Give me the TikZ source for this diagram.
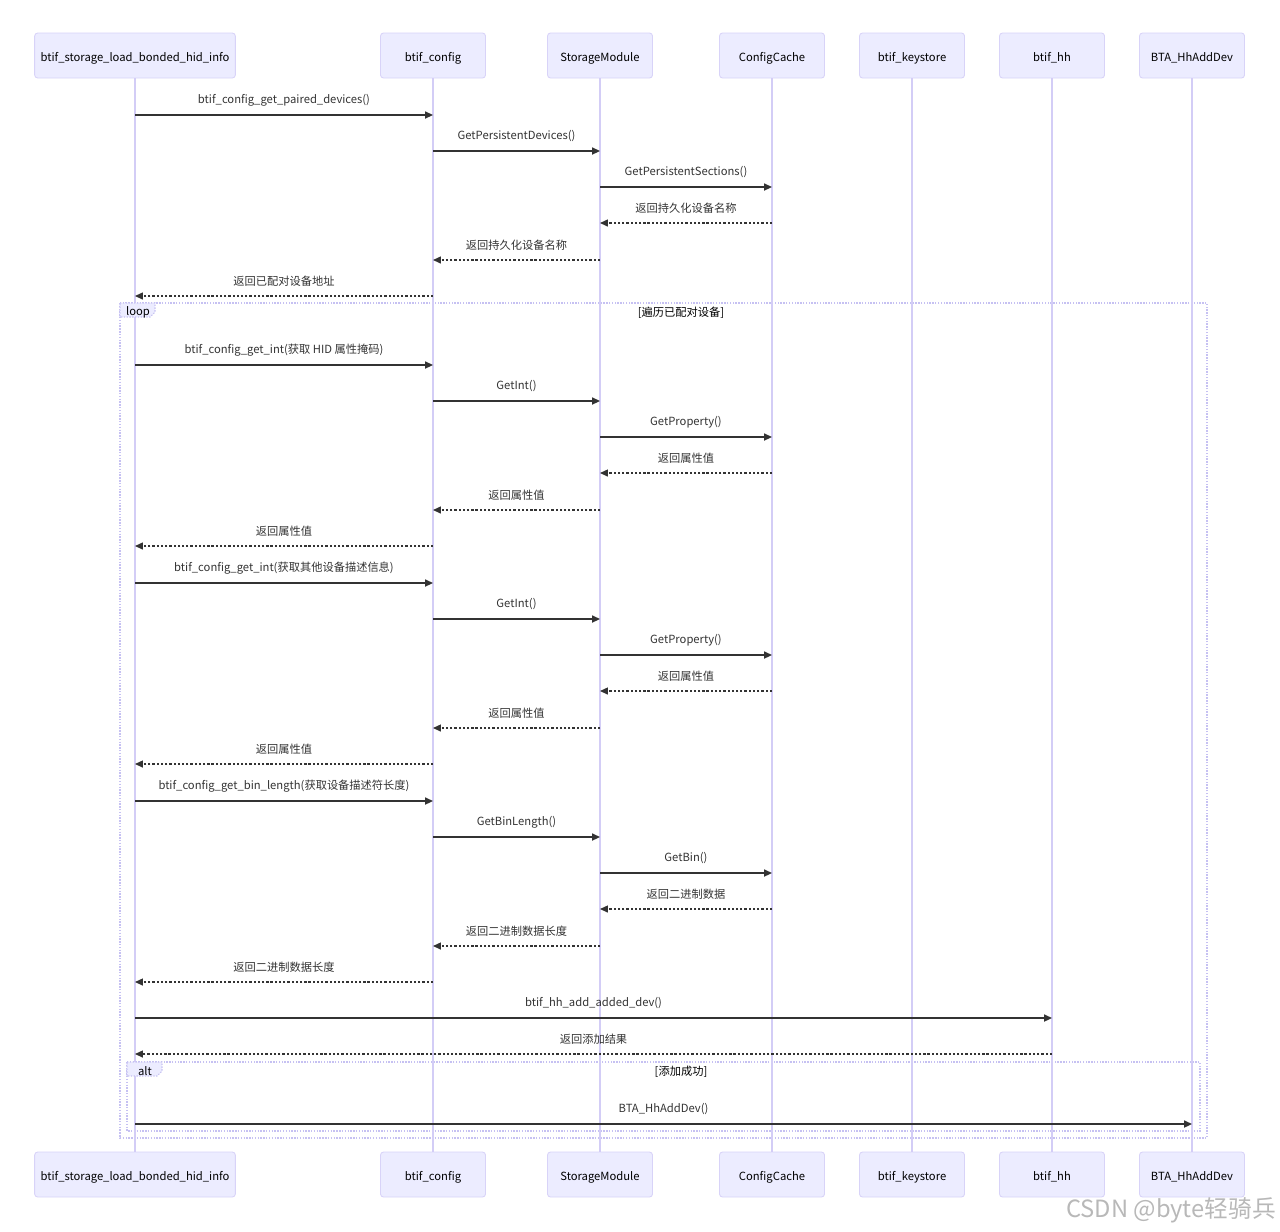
\documentclass[tikz,border=0pt]{standalone}
\usepackage{fontspec}
\setmainfont{Noto Sans CJK SC}
\usetikzlibrary{arrows.meta,positioning,calc}
\definecolor{ActorFill}{HTML}{ECECFF}
\definecolor{ActorRule}{HTML}{D8D3F8}
\definecolor{LifeRule}{HTML}{D3CDF6}
\definecolor{FrameRule}{HTML}{C6C1F2}
\definecolor{MsgInk}{HTML}{333333}

% one message: style, from, to, y, label
\newcommand{\seqmsg}[5]{%
  \coordinate (#2-#4) at (#2 |- 0,#4);
  \coordinate (#3-#4) at (#3 |- 0,#4);
  \draw[#1] (#2-#4) -- node[lbl] {#5} (#3-#4);
}

\begin{document}
\begin{tikzpicture}[
  x=0.02cm,y=-0.02cm,
  actor/.style={draw=ActorRule,fill=ActorFill,rounded corners=0.6mm,minimum width=2.1cm,minimum height=0.9cm,text height=1.5ex,text depth=0.3ex,font=\fontsize{6.4}{8}\selectfont,text=black,line width=0.5pt},
  life/.style={draw=LifeRule,line width=0.8pt},
  call/.style={-{Triangle[length=4.5pt,width=4pt]},draw=MsgInk,line width=0.9pt},
  back/.style={call,dash pattern=on 1.3pt off 1.1pt,line width=0.65pt},
  lbl/.style={font=\fontsize{6.4}{8}\selectfont,text=MsgInk,yshift=0.3cm},
  frame/.style={draw=FrameRule,dash pattern=on 0.8pt off 0.8pt,line width=0.6pt},
  tab/.style={frame,fill=ActorFill},
  tabtxt/.style={font=\fontsize{6.4}{8}\selectfont,text=black}
]
\useasboundingbox (0,0) rectangle (1280,1231);

% frames
\draw[frame] (120,303) rectangle (1207,1138);
\draw[frame] (127,1062) rectangle (1200,1131);

% participants
\node[actor,minimum width=4cm] (p1) at (135,55.5) {btif\_storage\_load\_bonded\_hid\_info};
\node[actor] (p2) at (433,55.5) {btif\_config};
\node[actor] (p3) at (600,55.5) {StorageModule};
\node[actor] (p4) at (772,55.5) {ConfigCache};
\node[actor] (p5) at (912,55.5) {btif\_keystore};
\node[actor] (p6) at (1052,55.5) {btif\_hh};
\node[actor] (p7) at (1192,55.5) {BTA\_HhAddDev};
\node[actor,minimum width=4cm] (q1) at (135,1174.5) {btif\_storage\_load\_bonded\_hid\_info};
\node[actor] (q2) at (433,1174.5) {btif\_config};
\node[actor] (q3) at (600,1174.5) {StorageModule};
\node[actor] (q4) at (772,1174.5) {ConfigCache};
\node[actor] (q5) at (912,1174.5) {btif\_keystore};
\node[actor] (q6) at (1052,1174.5) {btif\_hh};
\node[actor] (q7) at (1192,1174.5) {BTA\_HhAddDev};
\foreach \i in {1,...,7}
  \draw[life] (p\i.south) -- (q\i.north);

% frame tabs and conditions
\draw[tab] (120,303) -- (155,303) -- (155,312) -- (150,317) -- (120,317) -- cycle;
\node[tabtxt] (looptag) at (138,312) {loop};
\node[tabtxt] (loopcond) at (681,313) {[遍历已配对设备]};
\draw[tab] (127,1062) -- (162,1062) -- (162,1071) -- (157,1076) -- (127,1076) -- cycle;
\node[tabtxt] (alttag) at (145,1071) {alt};
\node[tabtxt] (altcond) at (681,1072) {[添加成功]};

% messages
\seqmsg{call}{p1}{p2}{115}{btif\_config\_get\_paired\_devices()}
\seqmsg{call}{p2}{p3}{151}{GetPersistentDevices()}
\seqmsg{call}{p3}{p4}{187}{GetPersistentSections()}
\seqmsg{back}{p4}{p3}{223}{返回持久化设备名称}
\seqmsg{back}{p3}{p2}{260}{返回持久化设备名称}
\seqmsg{back}{p2}{p1}{296}{返回已配对设备地址}
\seqmsg{call}{p1}{p2}{365}{btif\_config\_get\_int(获取 HID 属性掩码)}
\seqmsg{call}{p2}{p3}{401}{GetInt()}
\seqmsg{call}{p3}{p4}{437}{GetProperty()}
\seqmsg{back}{p4}{p3}{473}{返回属性值}
\seqmsg{back}{p3}{p2}{510}{返回属性值}
\seqmsg{back}{p2}{p1}{546}{返回属性值}
\seqmsg{call}{p1}{p2}{583}{btif\_config\_get\_int(获取其他设备描述信息)}
\seqmsg{call}{p2}{p3}{619}{GetInt()}
\seqmsg{call}{p3}{p4}{655}{GetProperty()}
\seqmsg{back}{p4}{p3}{691}{返回属性值}
\seqmsg{back}{p3}{p2}{728}{返回属性值}
\seqmsg{back}{p2}{p1}{764}{返回属性值}
\seqmsg{call}{p1}{p2}{801}{btif\_config\_get\_bin\_length(获取设备描述符长度)}
\seqmsg{call}{p2}{p3}{837}{GetBinLength()}
\seqmsg{call}{p3}{p4}{873}{GetBin()}
\seqmsg{back}{p4}{p3}{909}{返回二进制数据}
\seqmsg{back}{p3}{p2}{946}{返回二进制数据长度}
\seqmsg{back}{p2}{p1}{982}{返回二进制数据长度}
\seqmsg{call}{p1}{p6}{1018}{btif\_hh\_add\_added\_dev()}
\seqmsg{back}{p6}{p1}{1054}{返回添加结果}
\seqmsg{call}{p1}{p7}{1124}{BTA\_HhAddDev()}

\node[font=\fontsize{13.5}{16}\selectfont,text=black!28] (mark) at (1171,1210) {CSDN @byte轻骑兵};
\end{tikzpicture}
\end{document}
